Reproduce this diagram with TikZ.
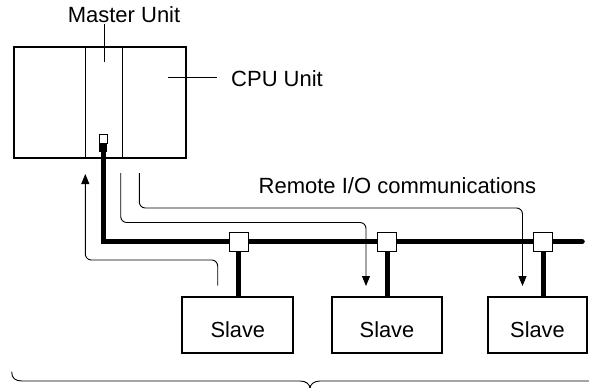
\documentclass[tikz,border=0pt]{standalone}
\usepackage{fontspec}
\setmainfont{Liberation Sans}
\usetikzlibrary{arrows.meta}
\begin{document}
\begin{tikzpicture}[x=1pt,y=-1pt,
  lbl/.style={inner sep=0pt,font=\fontsize{22}{26}\selectfont},
  unitbox/.style={draw,line width=2pt,inner sep=0pt,outer sep=0pt},
  slavebox/.style={draw,line width=2pt,fill=white,inner sep=0pt,outer sep=0pt,minimum height=56pt,
    font=\fontsize{21.8}{26}\selectfont,text height=25pt,text depth=0pt},
  tapbox/.style={draw,line width=0.9pt,fill=white,minimum size=19pt,inner sep=0pt,outer sep=0pt},
  cable/.style={line width=5.5pt},
  flow/.style={line width=0.9pt,rounded corners=6pt,-{Triangle[length=10pt,width=8pt]}},
  thinline/.style={line width=0.9pt},
]
\useasboundingbox (0,0) rectangle (589,388);
\clip (0,0) rectangle (589,388);

% Master / CPU unit rack
\node[unitbox,minimum width=172pt,minimum height=111pt] (master) at (100,102.5) {};
\draw[thinline] ([xshift=-15pt]master.north) -- ([xshift=-15pt]master.south);
\draw[thinline] ([xshift=22pt]master.north) -- ([xshift=22pt]master.south);

% port and plug
\node[draw,line width=0.8pt,fill=white,minimum width=8pt,minimum height=9pt,inner sep=0pt,outer sep=0pt] (port) at (103.3,138.5) {};
\node[fill=black,minimum width=8pt,minimum height=9pt,inner sep=0pt,outer sep=0pt] (plug) at (103.3,147.5) {};

% labels
\node[lbl,inner ysep=2pt,anchor=base west] (mu) at (67.6,22) {Master Unit};
\coordinate (mtip) at (104,62);
\draw[thinline] (mtip |- mu.south) -- (mtip);

\node[lbl,anchor=base west] (cpu) at (231,86.7) {CPU Unit};
\coordinate (ctip) at (168,77);
\coordinate (cend) at (217,77);
\draw[thinline] (ctip) -- (cend);

\node[lbl,anchor=base west] (rio) at (258.5,193.3) {Remote I/O communications};

% bus cable
\coordinate (busend) at (582,241.7);
\draw[cable,line cap=round] (plug.south) |- (busend);

% slaves
\node[slavebox,minimum width=111pt] (s1) at (237.8,325.3) {Slave};
\node[slavebox,minimum width=110.6pt] (s2) at (387,325.3) {Slave};
\node[slavebox,minimum width=99pt] (s3) at (537.5,325.3) {Slave};

% taps
\node[tapbox] (t1) at (238.7,241.5) {};
\node[tapbox] (t2) at (387.3,241.5) {};
\node[tapbox] (t3) at (543.3,241.5) {};
\draw[cable] (t1.south) -- (t1.south |- s1.north);
\draw[cable] (t2.south) -- (t2.south |- s2.north);
\draw[cable] (t3.south) -- (t3.south |- s3.north);

% communication arrows
\coordinate (r0) at (217.7,285.7);
\coordinate (r1) at (85.3,174);
\draw[flow] (r0) -- (r0 |- 0,260) -- (r1 |- 0,260) -- (r1);

\coordinate (a0) at (120.7,173);
\coordinate (a1) at (366,286);
\draw[flow] (a0) -- (a0 |- 0,222.5) -- (a1 |- 0,222.5) -- (a1);

\coordinate (b0) at (139.3,173);
\coordinate (b1) at (522.5,286);
\draw[flow] (b0) -- (b0 |- 0,208) -- (b1 |- 0,208) -- (b1);

% brace
\draw[thinline] (11.7,371.7) .. controls (11.7,378) and (15,381) .. (22,381) -- (300,381)
  .. controls (306,381) and (310,384) .. (310,389)
  .. controls (310,384) and (314,381) .. (320,381) -- (598,381)
  .. controls (605,381) and (608.3,378) .. (608.3,371.7);
\end{tikzpicture}
\end{document}
